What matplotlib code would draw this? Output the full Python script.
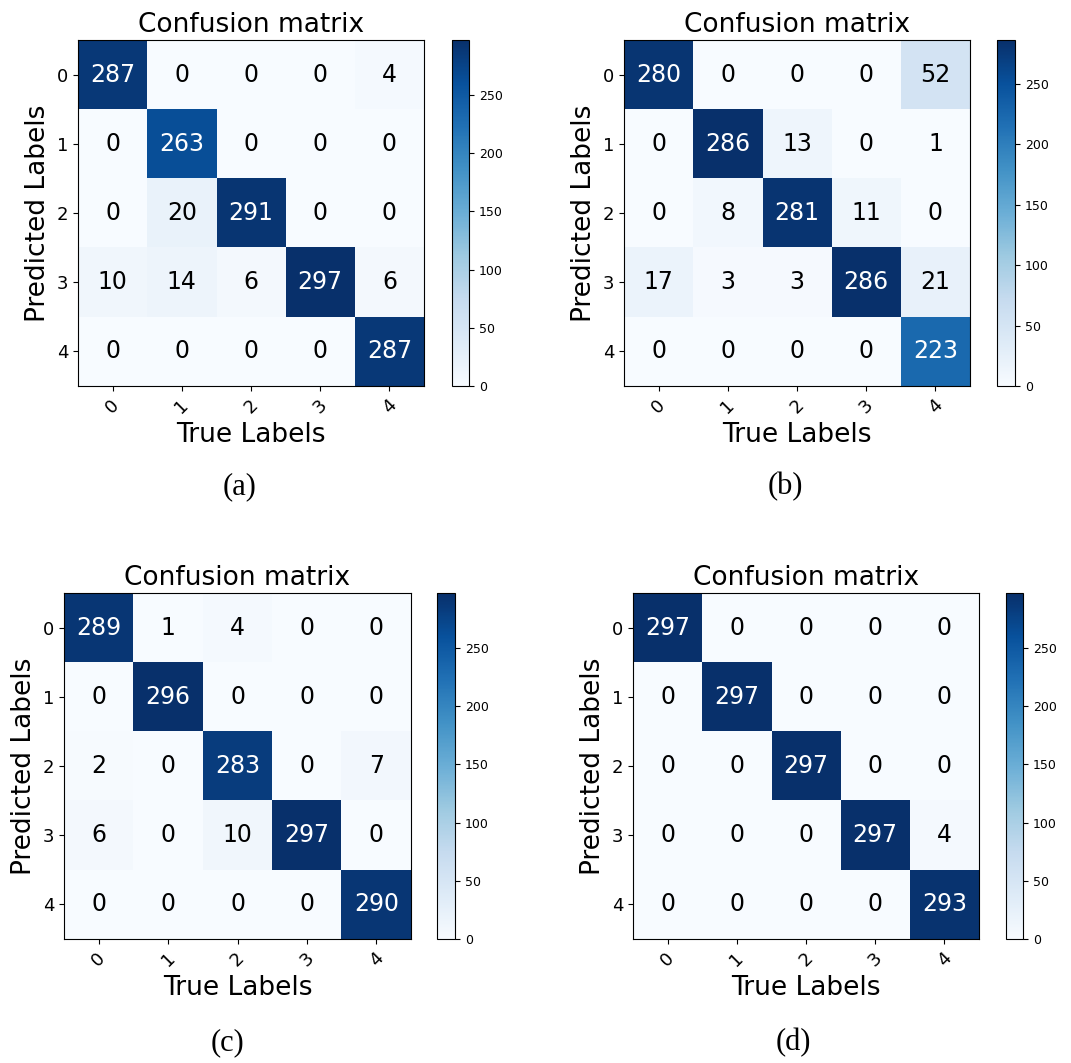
import matplotlib
matplotlib.use("Agg")
import matplotlib.pyplot as plt
import numpy as np

# confusion matrices: rows = predicted label, columns = true label
cm_a = [[287, 0, 0, 0, 4],
        [0, 263, 0, 0, 0],
        [0, 20, 291, 0, 0],
        [10, 14, 6, 297, 6],
        [0, 0, 0, 0, 287]]
cm_b = [[280, 0, 0, 0, 52],
        [0, 286, 13, 0, 1],
        [0, 8, 281, 11, 0],
        [17, 3, 3, 286, 21],
        [0, 0, 0, 0, 223]]
cm_c = [[289, 1, 4, 0, 0],
        [0, 296, 0, 0, 0],
        [2, 0, 283, 0, 7],
        [6, 0, 10, 297, 0],
        [0, 0, 0, 0, 290]]
cm_d = [[297, 0, 0, 0, 0],
        [0, 297, 0, 0, 0],
        [0, 0, 297, 0, 0],
        [0, 0, 0, 297, 4],
        [0, 0, 0, 0, 293]]
classes = ["0", "1", "2", "3", "4"]
captions = ["(a)", "(b)", "(c)", "(d)"]

W, H = 1071, 1063
fig = plt.figure(figsize=(W / 100, H / 100), dpi=100)


def px_axes(x0, y0, x1, y1):
    # pixel box (top-left origin) -> figure fraction
    return fig.add_axes([x0 / W, 1 - y1 / H, (x1 - x0) / W, (y1 - y0) / H])


# (image box, colorbar box, caption centre)
boxes = [
    ((78, 40, 424, 386), (452, 40, 469, 386), (240, 487)),
    ((624, 40, 970, 386), (997, 40, 1015, 386), (785, 487)),
    ((64, 593, 411, 939), (437, 593, 455, 939), (227, 1043)),
    ((633, 593, 979, 939), (1006, 593, 1023, 939), (793, 1043)),
]

for cm, cap, (ib, cb, cc) in zip([cm_a, cm_b, cm_c, cm_d], captions, boxes):
    cm = np.array(cm)
    ax = px_axes(*ib)
    im = ax.imshow(cm, interpolation="nearest", cmap=plt.cm.Blues, aspect="auto")
    ax.set_title("Confusion matrix", fontsize=19)
    ticks = np.arange(len(classes))
    ax.set_xticks(ticks)
    ax.set_xticklabels(classes, rotation=45, fontsize=13)
    ax.set_yticks(ticks)
    ax.set_yticklabels(classes, fontsize=13)
    thresh = cm.max() / 2.0
    for i in range(cm.shape[0]):
        for j in range(cm.shape[1]):
            ax.text(j, i, str(cm[i, j]), ha="center", va="center", fontsize=17,
                    color="white" if cm[i, j] > thresh else "black")
    ax.set_xlabel("True Labels", fontsize=19)
    ax.set_ylabel("Predicted Labels", fontsize=19)

    cax = px_axes(*cb)
    cbar = fig.colorbar(im, cax=cax)
    cbar.ax.tick_params(labelsize=9)

    fig.text(cc[0] / W, 1 - cc[1] / H, cap, ha="center", va="center",
             fontsize=22, family="Liberation Serif")

fig.savefig("out.png", dpi=100)
